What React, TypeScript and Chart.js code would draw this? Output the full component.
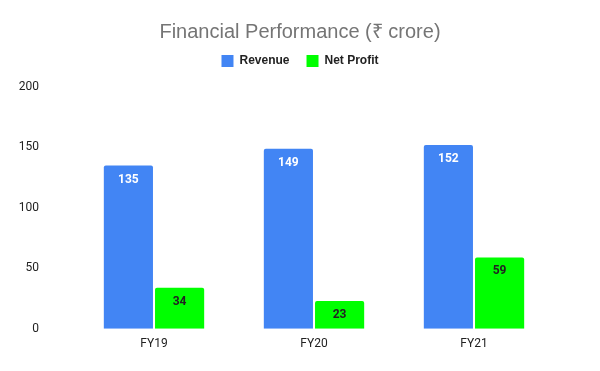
import React, { useEffect, useRef } from "react";
import { Chart, registerables } from "chart.js";

Chart.register(...registerables);

const categories = ["FY19", "FY20", "FY21"];
const revenue = [135, 149, 152];
const netProfit = [34, 23, 59];
const yTicks = [0, 50, 100, 150, 200];

const labelPlugin = {
  id: "barLabels",
  afterDatasetsDraw(chart: any) {
    const ctx = chart.ctx;
    ctx.save();
    ctx.font = "bold 12px Roboto";
    ctx.textAlign = "center";
    ctx.textBaseline = "middle";
    chart.data.datasets.forEach((ds: any, di: number) => {
      const meta = chart.getDatasetMeta(di);
      meta.data.forEach((bar: any, i: number) => {
        ctx.fillStyle = di === 0 ? "#ffffff" : "#222222";
        ctx.fillText(String(ds.data[i]), bar.x, bar.y + 14);
      });
    });
    ctx.restore();
  },
};

const legendMargin = {
  id: "legendMargin",
  beforeInit(chart: any) {
    const legend = chart.legend;
    if (!legend) return;
    const orig = legend.fit;
    legend.fit = function () {
      orig.call(this);
      this.height += 10;
    };
  },
};

export default function App() {
  const ref = useRef<HTMLCanvasElement>(null);
  useEffect(() => {
    const chart = new Chart(ref.current!, {
      type: "bar",
      data: {
        labels: categories,
        datasets: [
          {
            label: "Revenue",
            data: revenue,
            backgroundColor: "#4285F4",
            barPercentage: 0.96,
            categoryPercentage: 0.64,
            borderRadius: 2,
          },
          {
            label: "Net Profit",
            data: netProfit,
            backgroundColor: "#00FF00",
            barPercentage: 0.96,
            categoryPercentage: 0.64,
            borderRadius: 2,
          },
        ],
      },
      options: {
        animation: false,
        responsive: false,
        layout: { padding: { top: 0, left: 0, right: 0, bottom: -3 } },
        plugins: {
          title: {
            display: true,
            text: "Financial Performance (₹ crore)",
            color: "#757575",
            font: { family: "'Liberation Sans', Arial", size: 20, weight: "normal" },
            padding: { top: 20, bottom: -6 },
          },
          legend: {
            display: true,
            labels: {
              boxWidth: 12,
              boxHeight: 12,
              color: "#222222",
              font: { family: "'Liberation Sans', Arial", size: 12, weight: "bold" },
              padding: 17,
            },
          },
          tooltip: { enabled: false },
        },
        scales: {
          x: {
            grid: { display: false, drawTicks: false, tickLength: 0 },
            border: { display: false },
            ticks: { color: "#222222", font: { family: "Roboto", size: 12 }, padding: 8 },
            afterFit: (s: any) => { s.height = 35; },
          },
          y: {
            min: 0,
            max: 200,
            afterBuildTicks: (s: any) => { s.ticks = yTicks.map((v) => ({ value: v })); },
            grid: { display: false, drawTicks: false, tickLength: 0 },
            border: { display: false },
            ticks: { color: "#222222", font: { family: "Roboto", size: 12 }, padding: 35 },
            afterFit: (s: any) => { s.width = 74; },
          },
          yRight: {
            position: "right",
            min: 0,
            max: 200,
            grid: { display: false, drawTicks: false, tickLength: 0 },
            border: { display: false },
            ticks: { display: false },
            afterFit: (s: any) => { s.width = 46; },
          },
        },
      },
      plugins: [labelPlugin, legendMargin],
    });
    return () => chart.destroy();
  }, []);
  return (
    <div style={{ position: "fixed", left: 0, top: 0, width: 600, height: 371, background: "#fff" }}>
      <canvas ref={ref} width={600} height={371} />
    </div>
  );
}
